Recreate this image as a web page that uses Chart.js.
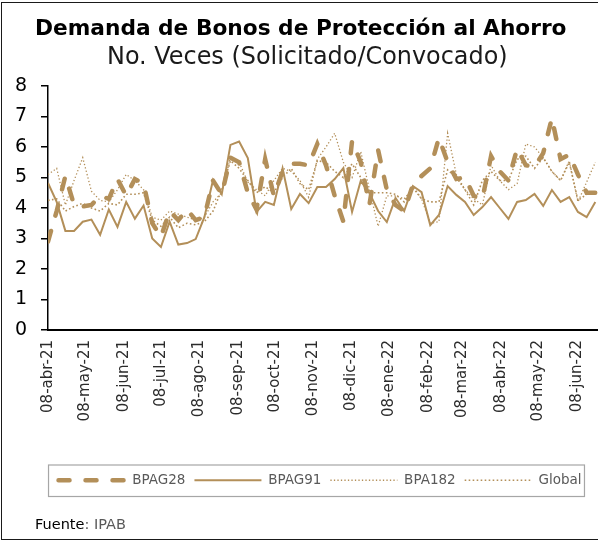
<!DOCTYPE html>
<html><head><meta charset="utf-8">
<script src="https://cdn.jsdelivr.net/npm/chart.js@4.4.1/dist/chart.umd.min.js"></script>
<style>
html,body{margin:0;padding:0;background:#fff;overflow:hidden;width:598px;height:542px}
#frame{position:absolute;left:1px;top:2px;width:700px;height:538px;border:1.5px solid #1a1a1a;border-right:none;box-sizing:border-box}
#wrap{position:absolute;left:0;top:0;width:646px;height:542px}
.t{position:absolute;white-space:nowrap;font-family:"DejaVu Sans";line-height:1}
#title{left:35px;top:17px;font-weight:bold;color:#000;font-size:20px}
#subtitle{left:107px;top:45px;color:#1a1a1a;font-size:20px}
#source{left:35px;top:517px;font-size:14.5px;color:#000}
#source span{color:#595959}
</style></head>
<body>
<div id="frame"></div>
<div id="wrap"><canvas id="c" width="646" height="542"></canvas></div>
<div class="t" id="title" data-w="532">Demanda de Bonos de Protección al Ahorro</div>
<div class="t" id="subtitle" data-w="401">No. Veces (Solicitado/Convocado)</div>
<div class="t" id="source">Fuente<span>: IPAB</span></div>
<script>
// ---- data (weekly auctions starting 08-abr-2021) ----
const startDate = [2021, 3, 8];
const seriesNames = ['BPAG28', 'BPAG91', 'BPA182', 'Global'];
const bpag28 = [2.9,3.9,5.05,4.1,4.05,4.1,4.4,4.3,4.95,4.4, 4.95,4.8,3.5,3.05,3.9,3.6,3.95,3.6,3.7,4.9, 4.45,5.65,5.5,4.5,3.95,5.6,4.4,5.2,5.45,5.45, 5.4,6.1,5.4,4.4,3.55,6.2,5.5,4.1,5.9,4.6, 4.1,3.9,4.75,5.05,5.3,6.3,5.5,4.95,5.0,4.4, 4.3,5.7,5.2,4.9,5.95,5.4,5.35,5.8,6.95,5.6, 5.75,5.1,4.5,4.5];
const bpag91 = [4.82,4.2,3.25,3.25,3.55,3.62,3.12,3.95,3.38,4.2, 3.65,4.08,3.0,2.72,3.55,2.8,2.85,2.98,3.7,4.92, 4.45,6.07,6.18,5.64,3.87,4.2,4.1,5.3,3.97,4.46, 4.16,4.69,4.69,4.95,5.31,3.87,4.89,4.49,3.9,3.54, 4.33,3.9,4.72,4.52,3.44,3.77,4.72,4.43,4.2,3.77, 4.03,4.36,4.0,3.64,4.2,4.26,4.46,4.07,4.59,4.2, 4.36,3.87,3.7,4.2];
const bpa182 = [5.1,5.3,4.1,4.9,5.65,4.55,4.25,4.2,4.6,5.1, 4.9,4.6,3.7,3.6,3.9,3.8,3.7,3.6,3.7,4.2, 4.5,5.65,5.5,4.85,4.6,4.4,4.9,5.3,5.2,4.9, 4.35,5.6,6.0,6.45,5.5,5.0,5.85,4.6,3.4,4.4, 4.4,4.3,4.65,4.3,3.5,3.55,6.45,5.1,4.6,4.3, 4.1,5.4,4.9,4.6,4.8,6.1,6.0,5.65,5.2,4.9, 5.55,4.2,4.85,5.5];
const globalS = [4.25,4.3,3.9,4.05,4.15,4.0,3.9,4.15,4.1,4.45, 4.45,4.5,3.6,3.4,3.7,3.35,3.5,3.45,3.55,3.9, 4.6,5.55,5.3,4.9,4.5,4.7,4.5,5.0,5.3,4.8, 4.6,5.55,5.5,5.2,5.0,5.45,5.0,4.5,4.5,4.5, 4.45,4.2,4.7,4.3,4.2,4.2,5.25,5.0,4.6,4.1, 4.9,5.2,4.9,4.9,5.6,5.7,5.3,5.65,5.2,4.9, 5.5,4.25,4.45,4.45];
const tickLabels = ['08-abr-21','08-may-21','08-jun-21','08-jul-21','08-ago-21','08-sep-21','08-oct-21','08-nov-21','08-dic-21','08-ene-22','08-feb-22','08-mar-22','08-abr-22','08-may-22','08-jun-22'];
const yTicks = [0,1,2,3,4,5,6,7,8];

// ---- helpers ----
const DAY = 86400000;
const t0 = Date.UTC(startDate[0], startDate[1], startDate[2]);
const tickDays = tickLabels.map((_, k) => Math.round((Date.UTC(startDate[0], startDate[1] + k, 8) - t0) / DAY));
const toPts = arr => arr.map((v, i) => ({x: i * 7, y: v}));

// fit title widths
document.querySelectorAll('[data-w]').forEach(el => {
  const w = el.getBoundingClientRect().width;
  const fs = parseFloat(getComputedStyle(el).fontSize);
  el.style.fontSize = (fs * (+el.dataset.w) / w) + 'px';
});

const COL = '#B38F59';
const FONT = 'DejaVu Sans';

const legendBox = {
  id: 'legendBox',
  afterDraw(chart) {
    const lg = chart.legend, hb = lg.legendHitBoxes, ctx = chart.ctx;
    if (!hb || !hb.length) return;
    const l = hb[0].left - 10;
    const last = hb[hb.length - 1];
    const r = last.left + last.width + 3;
    ctx.save();
    ctx.strokeStyle = '#a6a6a6';
    ctx.lineWidth = 1.2;
    ctx.strokeRect(l, lg.top + 0.5, r - l, lg.height - 1);
    ctx.restore();
  }
};

new Chart(document.getElementById('c'), {
  type: 'line',
  data: {
    datasets: [
      {label: seriesNames[0], data: toPts(bpag28), borderColor: COL, borderWidth: 4.5, borderDash: [11, 16], borderCapStyle: 'round'},
      {label: seriesNames[1], data: toPts(bpag91), borderColor: COL, borderWidth: 2},
      {label: seriesNames[2], data: toPts(bpa182), borderColor: COL, borderWidth: 1.3, borderDash: [1.3, 2.2]},
      {label: seriesNames[3], data: toPts(globalS), borderColor: COL, borderWidth: 1.6, borderDash: [1.6, 2.4]}
    ]
  },
  options: {
    responsive: false,
    animation: false,
    devicePixelRatio: 1,
    elements: {point: {radius: 0}, line: {tension: 0, fill: false}},
    layout: {padding: {top: 86, bottom: 45, left: 0, right: 6}},
    scales: {
      x: {
        type: 'linear', min: 0, max: 477,
        afterBuildTicks(s) { s.ticks = tickDays.map(v => ({value: v})); },
        afterFit(s) { s.height = 134.5; },
        ticks: {autoSkip: false, maxRotation: 90, minRotation: 90, color: '#2b2b2b', padding: 10,
          font: {family: FONT, size: 15}, callback: (v, i) => tickLabels[i]},
        grid: {display: false, drawTicks: false},
        border: {color: '#000', width: 2}
      },
      y: {
        min: 0, max: 8,
        afterBuildTicks(s) { s.ticks = yTicks.map(v => ({value: v})); },
        afterFit(s) { s.width = 48; },
        ticks: {color: '#000', padding: 14, font: {family: FONT, size: 19}},
        grid: {drawOnChartArea: false, drawTicks: true, tickLength: 7, color: '#000', lineWidth: 1.5},
        border: {color: '#000', width: 1.5}
      }
    },
    plugins: {
      tooltip: {enabled: false},
      legend: {
        position: 'bottom',
        labels: {
          usePointStyle: true, pointStyle: 'line', pointStyleWidth: 67, boxHeight: 13.5, padding: 9,
          color: '#595959', font: {family: FONT, size: 13.5},
          generateLabels(chart) {
            return chart.data.datasets.map((ds, i) => ({
              text: ds.label,
              datasetIndex: i,
              fontColor: '#595959',
              fillStyle: ds.borderColor,
              strokeStyle: ds.borderColor,
              lineWidth: ds.borderWidth,
              lineDash: ds.borderDash || [],
              lineCap: ds.borderCapStyle || 'butt',
              pointStyle: 'line',
              hidden: false
            }));
          }
        }
      }
    }
  },
  plugins: [legendBox]
});
</script>
</body></html>
